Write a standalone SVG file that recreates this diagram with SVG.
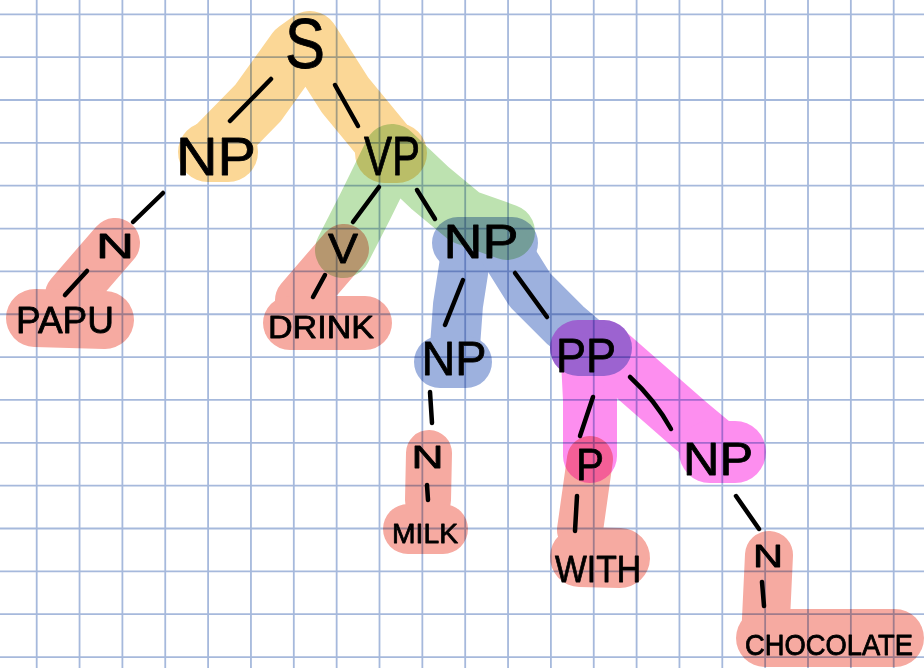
<svg xmlns="http://www.w3.org/2000/svg" width="924" height="668" viewBox="0 0 924 668">
  <style>
    .grid { stroke: #a6b9dc; stroke-width: 1.8; fill: none; }
    .hl { fill: none; stroke-linecap: round; stroke-linejoin: round; }
    .layer { mix-blend-mode: multiply; }
    .orange { stroke: #fbd796; }
    .green { stroke: #bde2b0; }
    .salmon { stroke: #f6aaa1; }
    .blue { stroke: #9db1de; }
    .magenta { stroke: #fd8eef; }
    .edge { stroke: #000; stroke-width: 4.5; stroke-linecap: round; fill: none; }
    .lbl { font-family: "Liberation Sans", "DejaVu Sans", sans-serif; fill: #000; stroke: #000; stroke-width: 0.8; stroke-linejoin: round; text-anchor: middle; }
  </style>

  <!-- paper -->
  <rect x="0" y="0" width="924" height="668" fill="#ffffff"/>
  <path class="grid" d="M36.7 0V668 M79.55 0V668 M122.4 0V668 M165.25 0V668 M208.1 0V668 M250.95 0V668 M293.8 0V668 M336.65 0V668 M379.5 0V668 M422.35 0V668 M465.2 0V668 M508.05 0V668 M550.9 0V668 M593.75 0V668 M636.6 0V668 M679.45 0V668 M722.3 0V668 M765.15 0V668 M808 0V668 M850.85 0V668 M893.7 0V668
    M0 14.3H924 M0 57.15H924 M0 100H924 M0 142.85H924 M0 185.7H924 M0 228.55H924 M0 271.4H924 M0 314.25H924 M0 357.1H924 M0 399.95H924 M0 442.8H924 M0 485.65H924 M0 528.5H924 M0 571.35H924 M0 614.2H924 M0 657.05H924"/>

  <!-- highlighter marks, one layer per colour -->
  <g id="highlights">
    <g class="layer">
      <g class="hl orange">
        <path d="M212 150 L258 103 L296 50 L310 40 L345 95 L392 152" stroke-width="58"/>
        <path d="M208 152 L228 152" stroke-width="60"/>
        <path d="M385 153 L397 153" stroke-width="60"/>
      </g>
    </g>
    <g class="layer">
      <g class="hl green">
        <path d="M343 250 L366 205 L392 152 L430 188 L465 217 L507 232" stroke-width="56"/>
      </g>
    </g>
    <g class="layer">
      <g class="hl blue">
        <path d="M458 243 L512 243" stroke-width="52"/>
        <path d="M465 260 L458 305 L454 360" stroke-width="50"/>
        <path d="M440 362 L466 362" stroke-width="52"/>
        <path d="M505 250 L530 290 L565 325 L592 348" stroke-width="52"/>
        <path d="M578 348 L604 348" stroke-width="56"/>
      </g>
    </g>
    <g class="layer">
      <g class="hl magenta">
        <path d="M578 348 L604 348" stroke-width="56"/>
        <path d="M588 360 L590 400 L590 456" stroke-width="54"/>
        <path d="M610 355 L650 390 L690 425 L720 450" stroke-width="56"/>
        <path d="M710 452 L735 452" stroke-width="62"/>
      </g>
    </g>
    <g class="layer">
      <g class="hl salmon">
        <path d="M115 243 L70 295" stroke-width="50"/>
        <path d="M35 318 L105 320" stroke-width="58"/>
        <path d="M344 249 L300 300" stroke-width="50"/>
        <path d="M290 323 L365 323" stroke-width="54"/>
        <path d="M429 453 L428 500" stroke-width="46"/>
        <path d="M408 529 L443 529" stroke-width="50"/>
        <path d="M590 459 L580 530" stroke-width="46"/>
        <path d="M580 557 L620 558" stroke-width="60"/>
        <path d="M769 555 L765 640" stroke-width="48"/>
        <path d="M765 638 L895 638" stroke-width="58"/>
      </g>
    </g>
  </g>

  <!-- tree branches -->
  <g id="connectors">
    <path class="edge" d="M271 79 L230 121"/>
    <path class="edge" d="M335 85 L358 126"/>
    <path class="edge" d="M163 193 L133 222"/>
    <path class="edge" d="M87 271 L65 295"/>
    <path class="edge" d="M379 187 L353 222"/>
    <path class="edge" d="M325 275 L313 297"/>
    <path class="edge" d="M417 190 L435 219"/>
    <path class="edge" d="M463 280 L445 325"/>
    <path class="edge" d="M515 273 L547 317"/>
    <path class="edge" d="M430 392 L432 423"/>
    <path class="edge" d="M427 485 L428 500"/>
    <path class="edge" d="M593 397 L580 436"/>
    <path class="edge" d="M577 496 L575 531"/>
    <path class="edge" d="M630 377 Q655 400 671 429"/>
    <path class="edge" d="M736 496 L759 529"/>
    <path class="edge" d="M762 582 L764 606"/>
  </g>

  <!-- tree nodes -->
  <g id="node-s"><text class="lbl" x="305" y="68" font-size="70" textLength="40" lengthAdjust="spacingAndGlyphs">S</text></g>
  <g id="node-np-subject"><text class="lbl" x="216" y="175" font-size="53" textLength="80" lengthAdjust="spacingAndGlyphs">NP</text></g>
  <g id="node-vp"><text class="lbl" x="392" y="175" font-size="55" textLength="56" lengthAdjust="spacingAndGlyphs">VP</text></g>
  <g id="node-n-subject"><text class="lbl" x="115" y="258" font-size="35" textLength="38" lengthAdjust="spacingAndGlyphs">N</text></g>
  <g id="leaf-papu"><text class="lbl" x="65" y="333" font-size="36" textLength="98" lengthAdjust="spacingAndGlyphs">PAPU</text></g>
  <g id="node-v"><text class="lbl" x="343" y="263" font-size="43" textLength="30" lengthAdjust="spacingAndGlyphs">V</text></g>
  <g id="leaf-drink"><text class="lbl" x="321" y="338" font-size="32" textLength="106" lengthAdjust="spacingAndGlyphs">DRINK</text></g>
  <g id="node-np-object"><text class="lbl" x="481" y="258" font-size="49" textLength="75" lengthAdjust="spacingAndGlyphs">NP</text></g>
  <g id="node-np-milk"><text class="lbl" x="454" y="375" font-size="49" textLength="65" lengthAdjust="spacingAndGlyphs">NP</text></g>
  <g id="node-n-milk"><text class="lbl" x="427.5" y="468" font-size="32" textLength="32" lengthAdjust="spacingAndGlyphs">N</text></g>
  <g id="leaf-milk"><text class="lbl" x="425" y="543" font-size="28" textLength="66" lengthAdjust="spacingAndGlyphs">MILK</text></g>
  <g id="node-pp"><text class="lbl" x="586" y="372" font-size="49" textLength="60" lengthAdjust="spacingAndGlyphs">PP</text></g>
  <g id="node-p"><text class="lbl" x="590" y="480" font-size="45" textLength="28" lengthAdjust="spacingAndGlyphs">P</text></g>
  <g id="leaf-with"><text class="lbl" x="598" y="582" font-size="36" textLength="86" lengthAdjust="spacingAndGlyphs">WITH</text></g>
  <g id="node-np-chocolate"><text class="lbl" x="718" y="475" font-size="46" textLength="70" lengthAdjust="spacingAndGlyphs">NP</text></g>
  <g id="node-n-chocolate"><text class="lbl" x="768" y="567" font-size="31" textLength="30" lengthAdjust="spacingAndGlyphs">N</text></g>
  <g id="leaf-chocolate"><text class="lbl" x="829" y="655" font-size="29" textLength="168" lengthAdjust="spacingAndGlyphs">CHOCOLATE</text></g>
</svg>
